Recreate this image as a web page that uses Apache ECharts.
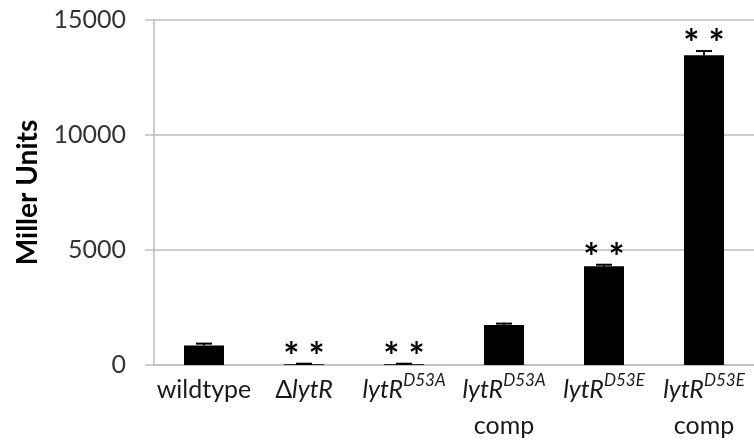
<!DOCTYPE html>
<html>
<head>
<meta charset="utf-8">
<script src="https://cdn.jsdelivr.net/npm/echarts@6/dist/echarts.min.js"></script>
<style>
html,body{margin:0;padding:0;background:#fff;}
#chart{width:754px;height:440px;}
</style>
</head>
<body>
<div id="chart"></div>
<script>
// ---- data ----
const categories = ['wildtype', 'ΔlytR', 'lytR D53A', 'lytR D53A comp', 'lytR D53E', 'lytR D53E comp'];
const values = [850, 30, 30, 1740, 4290, 13470];
const errors = [80, 25, 25, 60, 70, 180];
const significance = ['', '* *', '* *', '', '* *', '* *'];
const yTicks = [0, 5000, 10000, 15000];

const labelRich = {
  '0': '{n|wildtype}',
  '1': '{n|Δ}{i|lytR}',
  '2': '{i|lytR}{s|D53A}',
  '3': '{i|lytR}{s|D53A}\n{n|comp}',
  '4': '{i|lytR}{s|D53E}',
  '5': '{i|lytR}{s|D53E}\n{n|comp}'
};

const FONT = 'Lato';
const chart = echarts.init(document.getElementById('chart'), null, {renderer: 'canvas'});
chart.setOption({
  animation: false,
  backgroundColor: '#fff',
  grid: {left: 154, right: 0, top: 20, bottom: 75, containLabel: false},
  xAxis: {
    type: 'category',
    data: categories,
    axisLine: {lineStyle: {color: '#bdbdbd', width: 1.5}},
    axisTick: {show: false},
    axisLabel: {
      interval: 0,
      margin: 7,
      formatter: function (v, idx) { return labelRich[String(idx)]; },
      rich: {
        n: {fontFamily: FONT, fontSize: 25, color: '#1a1a1a', lineHeight: 36},
        i: {fontFamily: FONT, fontSize: 25, fontStyle: 'italic', color: '#1a1a1a', lineHeight: 36},
        s: {fontFamily: FONT, fontSize: 17, fontStyle: 'italic', color: '#1a1a1a', lineHeight: 31, verticalAlign: 'top'}
      }
    }
  },
  yAxis: {
    type: 'value',
    min: yTicks[0],
    max: yTicks[yTicks.length - 1],
    interval: yTicks[1] - yTicks[0],
    name: 'Miller Units',
    nameLocation: 'middle',
    nameGap: 112,
    nameTextStyle: {fontFamily: FONT, fontSize: 28, fontWeight: 'bold', color: '#000'},
    axisLine: {show: true, lineStyle: {color: '#bdbdbd', width: 1.5}},
    axisTick: {show: true, length: 9, lineStyle: {color: '#bdbdbd', width: 1.5}},
    axisLabel: {fontFamily: FONT, fontSize: 25, color: '#333', margin: 28,
      formatter: function (v) { return String(v); }},
    splitLine: {show: true, lineStyle: {color: '#bdbdbd', width: 1.5}}
  },
  series: [
    {
      type: 'bar',
      data: values,
      barWidth: '40%',
      itemStyle: {color: '#000'}
    },
    {
      type: 'custom',
      data: categories.map((c, i) => [i, values[i], errors[i]]),
      z: 5,
      renderItem: function (params, api) {
        const idx = api.value(0);
        const v = api.value(1), e = api.value(2);
        const base = api.coord([idx, v]);
        const top = api.coord([idx, v + e]);
        const half = 8;
        const children = [
          {type: 'line', shape: {x1: base[0], y1: base[1], x2: top[0], y2: top[1]}, style: {stroke: '#000', lineWidth: 2}},
          {type: 'line', shape: {x1: top[0] - half, y1: top[1], x2: top[0] + half, y2: top[1]}, style: {stroke: '#000', lineWidth: 2}}
        ];
        const sig = significance[idx];
        if (sig) {
          children.push({
            type: 'text',
            style: {
              text: sig, x: top[0], y: top[1] - 6,
              align: 'center', verticalAlign: 'middle',
              font: 'bold 38px "' + FONT + '"', fill: '#000'
            }
          });
        }
        return {type: 'group', children: children};
      }
    }
  ]
});
</script>
</body>
</html>
